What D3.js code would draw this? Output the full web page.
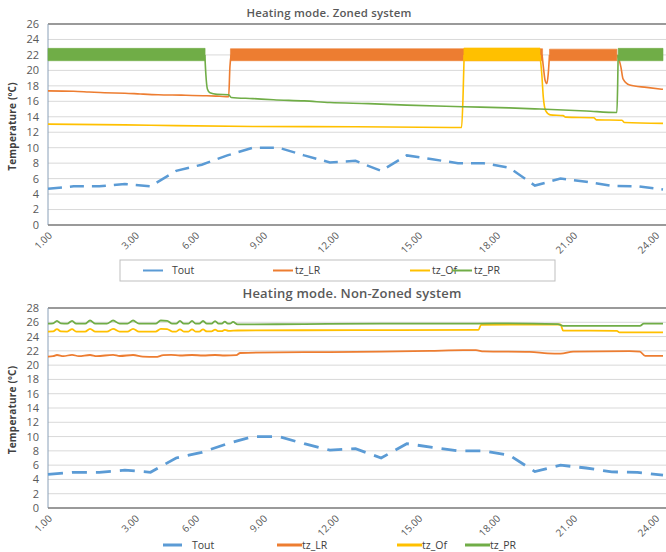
<!DOCTYPE html>
<html>
<head>
<meta charset="utf-8">
<script src="https://cdn.jsdelivr.net/npm/d3@7"></script>
<style>
  html, body { margin: 0; padding: 0; background: #fff; }
  svg { display: block; font-family: "Open Sans", "DejaVu Sans", sans-serif; }
</style>
</head>
<body>
<svg id="chart" width="666" height="552"></svg>
<script>
// ---- shared time axis ----
const tickLabels = ["1.00", "3.00", "6.00", "9.00", "12.00", "15.00", "18.00", "21.00", "24.00"];
const tickAt = [0.1, 3.5, 5.85, 8.5, 11.3, 14.55, 17.6, 20.6, 23.8]; // hour position of each label

// ---- outdoor temperature (hourly) ----
const hours = [0, 1, 2, 3, 4, 5, 6, 7, 8, 9, 10, 11, 12, 13, 14, 15, 16, 17, 18, 19, 20, 21, 22, 23, 24];
const toutValues = [4.7, 5.0, 5.0, 5.3, 5.0, 7.0, 7.8, 9.0, 10.0, 10.0, 9.0, 8.1, 8.3, 7.0, 9.0, 8.5, 8.0, 8.0, 7.4, 5.1, 6.0, 5.6, 5.05, 5.0, 4.6];

// ---- zoned system: zone temperatures outside thermostat cycling ----
const zonedLR = [[0, 17.35], [1, 17.3], [1.6, 17.2], [2.2, 17.1], [3, 17.05], [3.6, 16.95], [4.3, 16.85], [5.2, 16.8], [6.2, 16.72], [6.7, 16.65], [7.05, 16.6], [7.1, 20.5], [7.15, 22.0]];
const zonedLRDip = [[19.28, 22.0], [19.34, 20.2], [19.4, 18.7], [19.47, 18.3], [19.52, 19.5], [19.57, 22.0]];
const zonedLRTail = [[22.2, 22.0], [22.3, 21.2], [22.36, 20.4], [22.44, 18.9], [22.7, 18.1], [23.36, 17.8], [24, 17.55]];
const zonedOf = [[0, 13.05], [3, 12.95], [5, 12.85], [8, 12.75], [12, 12.7], [16.14, 12.62], [16.2, 17.0], [16.24, 22.0]];
const zonedOfTail = [[19.2, 22.0], [19.27, 19.5], [19.33, 16.5], [19.42, 14.8], [19.6, 14.25], [20.1, 14.15], [20.2, 13.95], [21.3, 13.88], [21.4, 13.6], [22.4, 13.55], [22.5, 13.25], [24, 13.15]];
const zonedPR = [[6.12, 22.0], [6.16, 19.5], [6.22, 17.6], [6.32, 17.1], [6.6, 16.9], [7.05, 16.85], [7.15, 16.5], [8, 16.35], [8.8, 16.2], [10, 16.05], [11, 15.85], [12.5, 15.7], [14, 15.5], [16.2, 15.3], [18, 15.15], [19.2, 15.0], [21, 14.75], [22.2, 14.55], [22.23, 18.0], [22.25, 22.0]];

// ---- zoned system: thermostat cycling envelopes [hour, low, high] ----
const bandPR1 = [[0, 21.25, 22.85], [6.13, 21.25, 22.85]];
const bandPR2 = [[22.25, 21.25, 22.85], [24, 21.25, 22.85]];
const bandLR1 = [[7.12, 21.25, 22.8], [19.3, 21.25, 22.8]];
const bandLR2 = [[19.57, 21.25, 22.75], [22.2, 21.25, 22.75]];
const bandOf = [[16.23, 21.25, 22.9], [19.2, 21.25, 22.9]];

// ---- non-zoned system ----
const nonZonedLR = [[0, 21.2], [0.2, 21.25], [0.35, 21.42], [0.6, 21.25], [0.94, 21.45], [1.2, 21.25], [1.64, 21.42], [1.9, 21.25], [2.54, 21.45], [2.8, 21.28], [3.32, 21.42], [3.7, 21.2], [4.2, 21.15], [4.5, 21.4], [4.8, 21.45], [5.15, 21.35], [5.62, 21.42], [6.05, 21.35], [6.52, 21.42], [6.9, 21.35], [7.35, 21.4], [7.5, 21.7], [9, 21.8], [11, 21.82], [13, 21.88], [14.9, 22.0], [16.2, 22.1], [16.7, 22.1], [17, 21.92], [18.8, 21.85], [19.5, 21.65], [20, 21.6], [20.5, 21.9], [22.7, 21.95], [23.1, 21.9], [23.3, 21.3], [24, 21.3]];
const nonZonedOf = [[0, 24.7], [0.2, 24.72], [0.35, 25.05], [0.5, 24.72], [0.75, 24.7], [0.94, 25.05], [1.1, 24.7], [1.45, 24.7], [1.64, 25.08], [1.85, 24.7], [2.3, 24.7], [2.54, 25.08], [2.8, 24.7], [3.1, 24.7], [3.32, 25.08], [3.55, 24.7], [4.2, 24.7], [4.4, 25.08], [4.65, 25.05], [4.85, 24.7], [5.0, 24.7], [5.15, 25.02], [5.3, 24.7], [5.48, 24.7], [5.62, 25.02], [5.76, 24.7], [5.9, 24.7], [6.05, 25.0], [6.2, 24.72], [6.38, 24.72], [6.52, 24.98], [6.66, 24.75], [6.78, 24.75], [6.9, 24.95], [7.05, 24.8], [7.4, 24.85], [12, 24.9], [16.8, 24.95], [16.9, 25.65], [20.0, 25.7], [20.1, 24.85], [22.2, 24.8], [22.3, 24.6], [24, 24.6]];
const nonZonedPR = [[0, 25.8], [0.2, 25.85], [0.35, 26.2], [0.5, 25.85], [0.75, 25.8], [0.94, 26.2], [1.1, 25.8], [1.45, 25.8], [1.64, 26.25], [1.85, 25.8], [2.3, 25.8], [2.54, 26.25], [2.8, 25.8], [3.1, 25.8], [3.32, 26.25], [3.55, 25.8], [4.2, 25.8], [4.4, 26.25], [4.65, 26.2], [4.85, 25.8], [5.0, 25.8], [5.15, 26.2], [5.3, 25.8], [5.48, 25.8], [5.62, 26.2], [5.76, 25.8], [5.9, 25.8], [6.05, 26.18], [6.2, 25.8], [6.38, 25.8], [6.52, 26.15], [6.66, 25.8], [6.78, 25.8], [6.9, 26.1], [7.02, 25.8], [7.1, 25.8], [7.22, 26.05], [7.4, 25.7], [10, 25.75], [13, 25.8], [16, 25.8], [17.5, 25.85], [19.9, 25.75], [20.1, 25.5], [23.1, 25.5], [23.25, 25.8], [24, 25.8]];

const seriesNames = ["Tout", "tz_LR", "tz_Of", "tz_PR"];
const seriesColors = ["#5B9BD5", "#ED7D31", "#FFC000", "#70AD47"];

// ---- drawing ----
const svg = d3.select("#chart");
const left = 48, right = 666, xEnd = 663;
const x = d3.scaleLinear().domain([0, 24]).range([left, xEnd]);
const textGray = "#595959";

function panel(cfg) {
  const y = d3.scaleLinear().domain([0, cfg.yMax]).range([cfg.bottom, cfg.top]);
  const g = svg.append("g");

  // title
  g.append("text").attr("x", cfg.titleX).attr("y", cfg.titleY)
    .attr("text-anchor", "middle").attr("font-size", cfg.titleSize).attr("font-weight", 600)
    .attr("letter-spacing", 0.2).attr("fill", textGray).text(cfg.title);

  // horizontal gridlines
  const yTicks = d3.range(0, cfg.yMax + 1, 2);
  g.append("g").selectAll("line").data(yTicks).join("line")
    .attr("x1", left).attr("x2", right)
    .attr("y1", d => y(d)).attr("y2", d => y(d))
    .attr("stroke", "#d9d9d9").attr("stroke-width", 1);

  // y axis labels
  g.append("g").selectAll("text").data(yTicks).join("text")
    .attr("x", 39).attr("y", d => y(d)).attr("dy", "0.36em")
    .attr("text-anchor", "end").attr("font-size", 11).attr("fill", textGray)
    .text(d => d);

  // y axis title
  g.append("text")
    .attr("transform", `translate(16,${(cfg.top + cfg.bottom) / 2 + 2}) rotate(-90)`)
    .attr("text-anchor", "middle").attr("font-size", 10).attr("font-weight", 700)
    .attr("letter-spacing", 0.2).attr("fill", "#404040").text("Temperature (ºC)");

  // plot frame
  g.append("line").attr("x1", left).attr("x2", right).attr("y1", cfg.top).attr("y2", cfg.top)
    .attr("stroke", "#7f7f7f").attr("stroke-width", 1.5);
  g.append("line").attr("x1", left).attr("x2", left).attr("y1", cfg.top).attr("y2", cfg.bottom)
    .attr("stroke", "#8aa0b8").attr("stroke-width", 1);

  // x axis labels
  g.append("g").selectAll("text").data(tickLabels).join("text")
    .attr("transform", (d, i) => `translate(${x(tickAt[i])},${cfg.bottom + 9}) rotate(-45)`)
    .attr("text-anchor", "end").attr("dy", "0.3em")
    .attr("font-size", 10).attr("fill", textGray).text(d => d);

  const line = d3.line().x(d => x(d[0])).y(d => y(d[1])).curve(d3.curveMonotoneX);
  const band = d3.area().x(d => x(d[0])).y0(d => y(d[1])).y1(d => y(d[2]));

  // outdoor temperature, dashed
  g.append("path").datum(hours.map((h, i) => [h, toutValues[i]]))
    .attr("d", d3.line().x(d => x(d[0])).y(d => y(d[1])))
    .attr("fill", "none").attr("stroke", seriesColors[0])
    .attr("stroke-width", cfg.toutWidth).attr("stroke-dasharray", cfg.dash);

  cfg.zones.forEach(z => {
    z.bands.forEach(b => g.append("path").datum(b).attr("d", band)
      .attr("fill", z.color).attr("stroke", z.color).attr("stroke-width", 0.6));
    z.lines.forEach(l => g.append("path").datum(l).attr("d", line)
      .attr("fill", "none").attr("stroke", z.color).attr("stroke-width", cfg.zoneWidth));
  });

  // bottom axis
  g.append("line").attr("x1", left).attr("x2", right).attr("y1", cfg.bottom).attr("y2", cfg.bottom)
    .attr("stroke", "#7f7f7f").attr("stroke-width", 1.5);

  // legend
  const lg = g.append("g");
  if (cfg.legendBox) {
    lg.append("rect").attr("x", cfg.legendBox[0]).attr("y", cfg.legendBox[1])
      .attr("width", cfg.legendBox[2]).attr("height", cfg.legendBox[3])
      .attr("fill", "#fff").attr("stroke", "#bfbfbf").attr("stroke-width", 1);
  }
  seriesNames.forEach((name, i) => {
    const it = cfg.legendItems[i];
    lg.append("line").attr("x1", it[0]).attr("x2", it[1])
      .attr("y1", cfg.legendY).attr("y2", cfg.legendY)
      .attr("stroke", seriesColors[i]).attr("stroke-width", cfg.legendWidth);
    lg.append("text").attr("x", it[2]).attr("y", cfg.legendY).attr("dy", "0.35em")
      .attr("font-size", 10.5).attr("fill", "#404040").text(name);
  });
}

panel({
  title: "Heating mode. Zoned system", titleX: 329, titleY: 17, titleSize: 11.4,
  top: 24, bottom: 225, yMax: 26,
  toutWidth: 2.5, dash: "14,8", zoneWidth: 1.6,
  zones: [
    { color: seriesColors[1], lines: [zonedLR, zonedLRDip, zonedLRTail], bands: [bandLR1, bandLR2] },
    { color: seriesColors[2], lines: [zonedOf, zonedOfTail], bands: [bandOf] },
    { color: seriesColors[3], lines: [zonedPR], bands: [bandPR1, bandPR2] }
  ],
  legendBox: [120, 260, 435, 21], legendY: 270.5, legendWidth: 2,
  legendItems: [[143, 163, 172], [273, 293, 295], [410, 430, 432], [452, 472, 474]]
});

panel({
  title: "Heating mode. Non-Zoned system", titleX: 352, titleY: 298, titleSize: 13,
  top: 308, bottom: 508, yMax: 28,
  toutWidth: 2.8, dash: "15,9", zoneWidth: 1.8,
  zones: [
    { color: seriesColors[1], lines: [nonZonedLR], bands: [] },
    { color: seriesColors[2], lines: [nonZonedOf], bands: [] },
    { color: seriesColors[3], lines: [nonZonedPR], bands: [] }
  ],
  legendBox: null, legendY: 545, legendWidth: 3,
  legendItems: [[163, 182, 192], [277, 302, 302], [397, 422, 422], [465, 490, 490]]
});
</script>
</body>
</html>
